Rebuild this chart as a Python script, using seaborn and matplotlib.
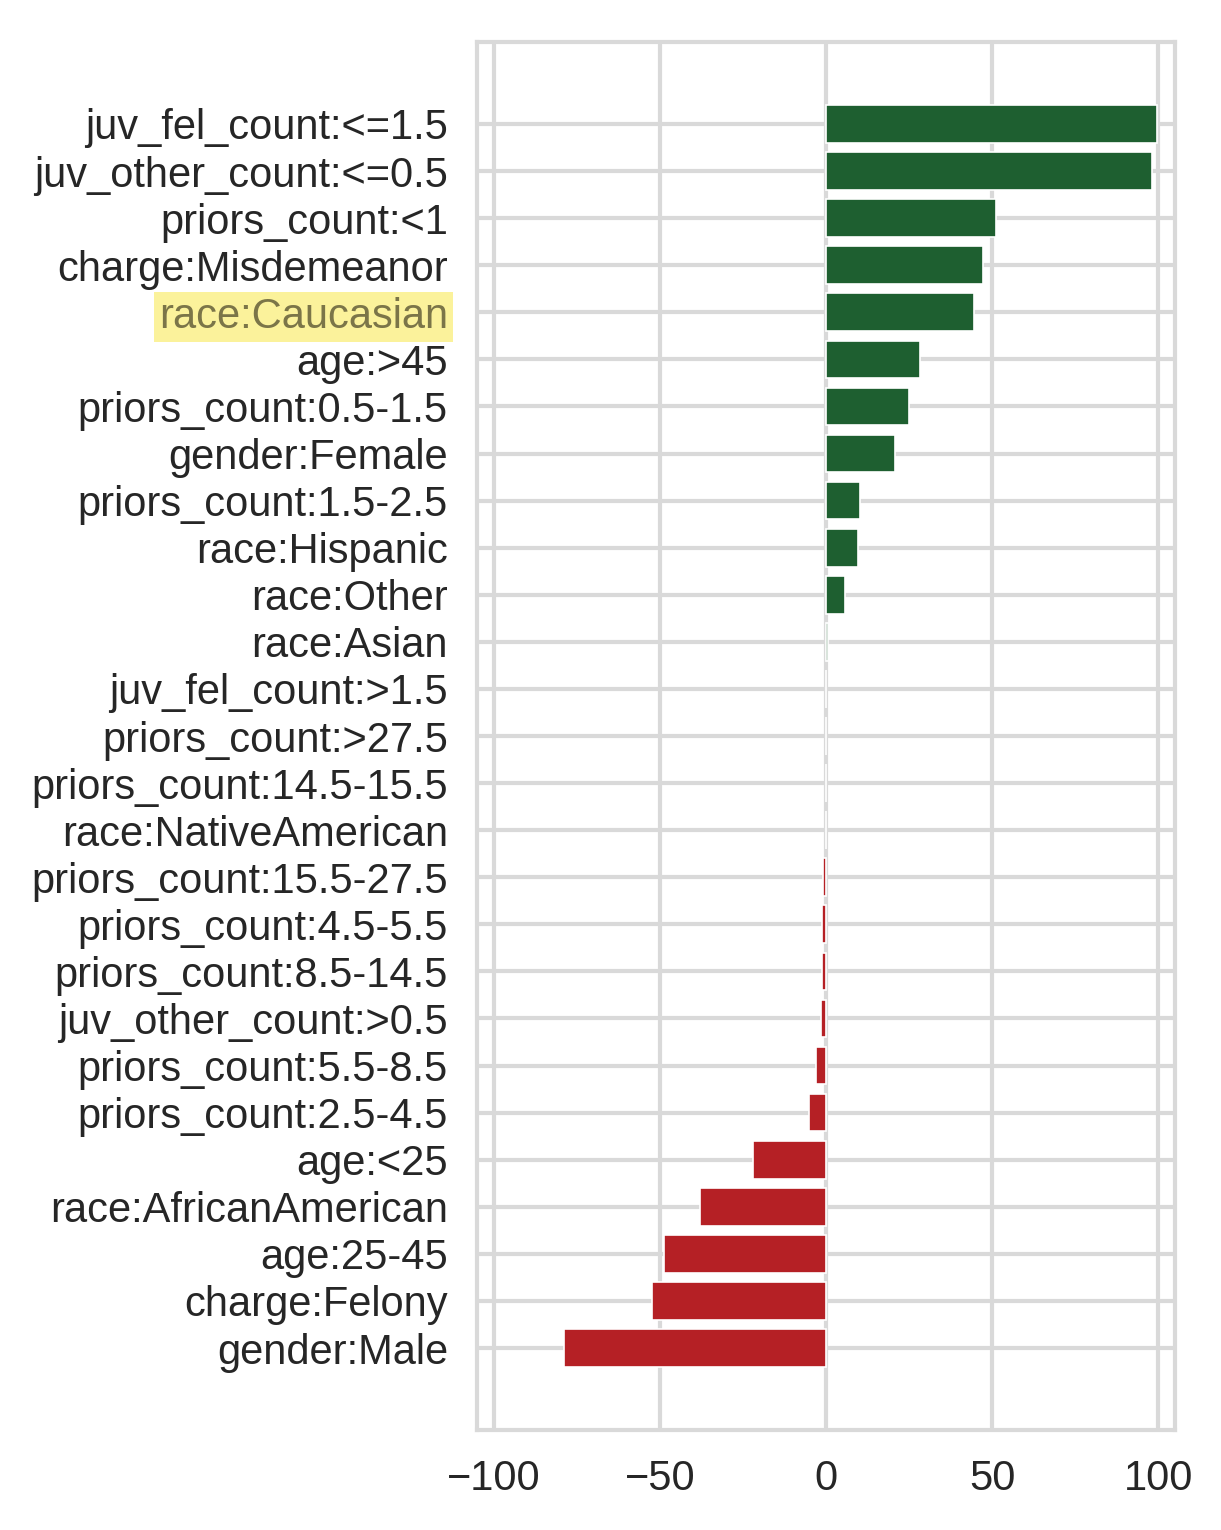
import matplotlib
matplotlib.use('Agg')
import matplotlib.pyplot as plt
import seaborn as sns
import pandas as pd
import numpy as np

# Feature contributions, top to bottom as shown
features = ['juv_fel_count:<=1.5', 'juv_other_count:<=0.5', 'priors_count:<1',
            'charge:Misdemeanor', 'race:Caucasian', 'age:>45',
            'priors_count:0.5-1.5', 'gender:Female', 'priors_count:1.5-2.5',
            'race:Hispanic', 'race:Other', 'race:Asian', 'juv_fel_count:>1.5',
            'priors_count:>27.5', 'priors_count:14.5-15.5', 'race:NativeAmerican',
            'priors_count:15.5-27.5', 'priors_count:4.5-5.5', 'priors_count:8.5-14.5',
            'juv_other_count:>0.5', 'priors_count:5.5-8.5', 'priors_count:2.5-4.5',
            'age:<25', 'race:AfricanAmerican', 'age:25-45', 'charge:Felony',
            'gender:Male']
scores = [99.6, 98.0, 51.3, 47.1, 44.4, 28.2, 24.9, 20.7, 10.2, 9.6, 5.7, 0.6,
          0.0, 0.0, 0.0, 0.0, -0.8, -1.1, -1.2, -1.4, -2.9, -5.0, -22.1, -38.0,
          -48.6, -52.3, -78.7]
highlight = 'race:Caucasian'

df = pd.DataFrame({'feature': features, 'score': scores})
colors = ['#1e5f30' if s >= 0 else '#b52025' for s in scores]

sns.set_theme(style='whitegrid')
plt.rcParams['font.family'] = ['Liberation Sans', 'DejaVu Sans']

fig = plt.figure(figsize=(1221 / 300, 1530 / 300), dpi=300, facecolor='white')
ax = fig.add_axes([0.3907, 0.0654, 0.5716, 0.9071])

sns.barplot(data=df, x='score', y='feature', hue='feature', palette=colors,
            saturation=1, legend=False, orient='h', width=0.8,
            edgecolor='white', linewidth=0.4, ax=ax)

# same breathing room a plain barh would get
n = len(features)
pad = 0.4 + 0.05 * (n - 1 + 0.8)
ax.set_ylim(n - 1 + pad, -pad)
ax.set_xlim(-105, 105)
ax.set_xticks([-100, -50, 0, 50, 100])

ax.set_xlabel('')
ax.set_ylabel('')
ax.tick_params(axis='both', labelsize=10, colors='#262626', length=0, pad=7)
ax.grid(True, axis='both', color='#d9d9d9', linewidth=1)
ax.set_axisbelow(True)
for sp in ax.spines.values():
    sp.set_color('#d9d9d9')
    sp.set_linewidth(1.0)

# highlight the protected attribute
for lbl in ax.get_yticklabels():
    if lbl.get_text() == highlight:
        lbl.set_color('#7b7548')
        lbl.set_bbox(dict(boxstyle='square,pad=0.12', facecolor='#fbf29b',
                          edgecolor='none'))

plt.savefig('out.png', dpi=300, facecolor='white')
